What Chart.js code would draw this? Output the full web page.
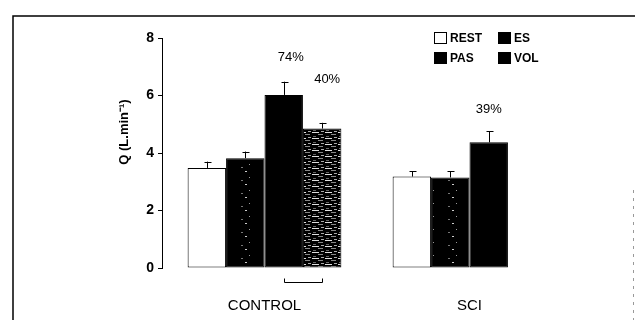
<!DOCTYPE html>
<html>
<head>
<meta charset="utf-8">
<script src="https://cdn.jsdelivr.net/npm/chart.js@4.4.1/dist/chart.umd.min.js"></script>
<style>
  html, body { margin: 0; padding: 0; background: #fff; }
  #wrap { position: relative; width: 635px; height: 320px; }
</style>
</head>
<body>
<div id="wrap"><canvas id="grafico" width="635" height="320"></canvas></div>
<script>
// datos
const categorias = ['CONTROL', 'SCI']
const series = ['REST', 'ES', 'PAS', 'VOL']
const rest = [3.48, 3.18]
const restErr = [3.70, 3.36]
const es = [3.82, 3.15]
const esErr = [4.05, 3.36]
const pas = [6.02, 4.37]
const pasErr = [6.48, 4.75]
const vol = [4.85, null]
const volErr = [5.05, null]
const yTicks = [0, 2, 4, 6, 8]
const porcentajes = ['74%', '40%', '39%']

const FONT = 'Liberation Sans, Arial, sans-serif'

// texturas de las barras
function hacerPatron(w, h, fondo, trazos) {
  const c = document.createElement('canvas')
  c.width = w; c.height = h
  const g = c.getContext('2d')
  g.fillStyle = fondo
  g.fillRect(0, 0, w, h)
  trazos.forEach(t => { g.fillStyle = t[4]; g.fillRect(t[0], t[1], t[2], t[3]) })
  return g.createPattern(c, 'repeat')
}
const patronES = hacerPatron(23, 13, '#000', [
  [15, 2, 2, 1, '#ccc'], [19, 8, 1, 1, '#999'], [11, 11, 2, 1, '#777']
])
const patronVOL = hacerPatron(13, 6, '#000', [
  [0, 0, 7, 1, '#ddd'], [6, 2, 5, 1, '#888'], [1, 4, 3, 1, '#666'], [9, 5, 3, 1, '#aaa']
])

const errores = [restErr, esErr, pasErr, volErr]

const plugin = {
  id: 'extras',
  beforeDraw(chart) {
    const ctx = chart.ctx
    ctx.save()
    ctx.fillStyle = '#fff'
    ctx.fillRect(0, 0, chart.width, chart.height)
    // marco de la figura
    ctx.strokeStyle = '#000'
    ctx.lineWidth = 1.5
    ctx.beginPath()
    ctx.moveTo(13, 320); ctx.lineTo(13, 16); ctx.lineTo(635, 16)
    ctx.stroke()
    ctx.strokeStyle = '#999'
    ctx.lineWidth = 1
    ctx.setLineDash([3, 5])
    ctx.beginPath()
    ctx.moveTo(633.5, 190); ctx.lineTo(633.5, 320)
    ctx.stroke()
    ctx.restore()
  },
  afterDatasetsDraw(chart) {
    const ctx = chart.ctx
    const y = chart.scales.y
    ctx.save()
    ctx.strokeStyle = '#000'
    ctx.lineWidth = 1
    // barras de error (solo hacia arriba)
    errores.forEach((err, i) => {
      const meta = chart.getDatasetMeta(i)
      meta.data.forEach((bar, j) => {
        if (err[j] == null) return
        const yt = y.getPixelForValue(err[j])
        const x = Math.round(bar.x) + 0.5
        ctx.beginPath()
        ctx.moveTo(x, bar.y); ctx.lineTo(x, yt)
        ctx.moveTo(x - 3, Math.round(yt) + 0.5); ctx.lineTo(x + 4, Math.round(yt) + 0.5)
        ctx.stroke()
      })
    })
    // porcentajes
    ctx.fillStyle = '#000'
    ctx.font = '13px ' + FONT
    ctx.textAlign = 'center'
    ctx.textBaseline = 'middle'
    const pos = [[2, 0, 7, 57], [3, 0, 5, 79], [2, 1, 0, 109]]
    pos.forEach((p, k) => {
      const bar = chart.getDatasetMeta(p[0]).data[p[1]]
      ctx.fillText(porcentajes[k], bar.x + p[2], p[3])
    })
    // corchete bajo PAS-VOL de CONTROL
    const x1 = Math.round(chart.getDatasetMeta(2).data[0].x) + 0.5
    const x2 = Math.round(chart.getDatasetMeta(3).data[0].x) + 0.5
    const yb = Math.round(y.bottom) + 14.5
    ctx.beginPath()
    ctx.moveTo(x1, yb - 4); ctx.lineTo(x1, yb); ctx.lineTo(x2, yb); ctx.lineTo(x2, yb - 4)
    ctx.stroke()
    // titulo del eje y
    ctx.save()
    ctx.translate(124, 132)
    ctx.rotate(-Math.PI / 2)
    ctx.font = 'bold 13px ' + FONT
    ctx.fillText('Q (L.min\u207B\u00B9)', 0, 0)
    ctx.restore()
    // leyenda 2x2
    const cajas = [[434, 32], [498, 32], [434, 52], [498, 52]]
    ctx.font = 'bold 12px ' + FONT
    ctx.textAlign = 'left'
    series.forEach((s, i) => {
      const c = cajas[i]
      if (i === 0) {
        ctx.fillStyle = '#fff'
        ctx.fillRect(c[0], c[1], 12, 11)
        ctx.strokeRect(c[0] + 0.5, c[1] + 0.5, 12, 11)
      } else {
        ctx.fillStyle = '#000'
        ctx.fillRect(c[0], c[1], 13, 12)
      }
      ctx.fillStyle = '#000'
      ctx.fillText(s, c[0] + 16, c[1] + 6.5)
    })
    ctx.restore()
  }
}

new Chart(document.getElementById('grafico'), {
  type: 'bar',
  data: {
    labels: categorias,
    datasets: [
      { label: series[0], data: rest, backgroundColor: '#fff', borderColor: '#000', borderWidth: 1, borderSkipped: false },
      { label: series[1], data: es, backgroundColor: patronES, borderColor: '#000', borderWidth: 1, borderSkipped: false },
      { label: series[2], data: pas, backgroundColor: '#000', borderColor: '#000', borderWidth: 1, borderSkipped: false },
      { label: series[3], data: vol, backgroundColor: patronVOL, borderColor: '#000', borderWidth: 1, borderSkipped: false }
    ]
  },
  options: {
    responsive: false,
    animation: false,
    devicePixelRatio: 1,
    categoryPercentage: 0.75,
    barPercentage: 1,
    layout: { padding: { left: 115, right: 63, top: 38, bottom: 0 } },
    plugins: { legend: { display: false }, tooltip: { enabled: false } },
    scales: {
      x: {
        afterFit: s => { s.height = 52 },
        grid: { display: false },
        border: { display: false },
        ticks: { color: '#000', padding: 21, font: { family: FONT, size: 15 } }
      },
      y: {
        min: 0,
        max: 8,
        afterFit: s => { s.width = 47 },
        afterBuildTicks: s => { s.ticks = yTicks.map(v => ({ value: v })) },
        border: { display: true, color: '#000', width: 1 },
        grid: { drawOnChartArea: false, drawTicks: true, tickLength: 4, color: '#000' },
        ticks: { color: '#000', padding: 4, font: { family: FONT, size: 14, weight: 'bold' } }
      }
    }
  },
  plugins: [plugin]
})
</script>
</body>
</html>
